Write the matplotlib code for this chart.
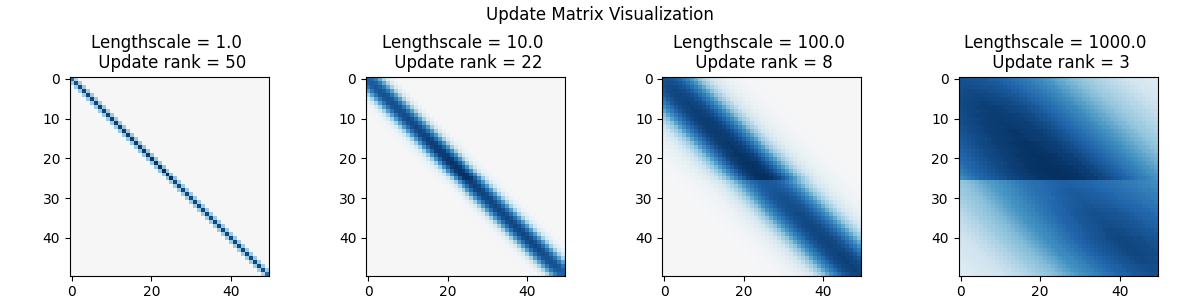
import numpy as np
import matplotlib
matplotlib.use("Agg")
import matplotlib.pyplot as plt

lengthscales = [1.0, 10.0, 100.0, 1000.0]
ranks = [50, 22, 8, 3]
split_row = 26

# peak value on each row
peak_1 = [0.78, 0.88, 0.9, 0.9, 0.91, 0.91, 0.91, 0.92, 0.92, 0.92,
          0.93, 0.93, 0.93, 0.94, 0.94, 0.94, 0.95, 0.95, 0.96, 0.96,
          0.97, 0.97, 0.98, 0.99, 1.0, 1.0, 0.9, 0.9, 0.9, 0.9,
          0.9, 0.9, 0.9, 0.9, 0.9, 0.9, 0.9, 0.9, 0.9, 0.9,
          0.9, 0.9, 0.9, 0.9, 0.9, 0.9, 0.9, 0.9, 0.88, 0.78]
peak_2 = [0.82, 0.84, 0.85, 0.86, 0.87, 0.87, 0.88, 0.88, 0.89, 0.89,
          0.9, 0.9, 0.91, 0.91, 0.92, 0.93, 0.94, 0.95, 0.96, 0.96,
          0.97, 0.98, 0.98, 0.99, 1.0, 1.0, 0.94, 0.93, 0.93, 0.92,
          0.92, 0.91, 0.91, 0.91, 0.91, 0.91, 0.91, 0.91, 0.91, 0.91,
          0.91, 0.91, 0.91, 0.9, 0.89, 0.88, 0.88, 0.87, 0.85, 0.82]
peak_3 = [0.88, 0.89, 0.9, 0.91, 0.92, 0.92, 0.93, 0.93, 0.94, 0.94,
          0.95, 0.95, 0.95, 0.96, 0.96, 0.96, 0.97, 0.97, 0.97, 0.98,
          0.98, 0.99, 0.99, 0.99, 1.0, 1.0, 0.85, 0.85, 0.86, 0.87,
          0.88, 0.88, 0.89, 0.89, 0.9, 0.9, 0.9, 0.91, 0.91, 0.91,
          0.92, 0.92, 0.92, 0.92, 0.93, 0.93, 0.93, 0.93, 0.93, 0.92]
peak_4 = [0.87, 0.88, 0.89, 0.9, 0.91, 0.92, 0.93, 0.94, 0.94, 0.95,
          0.95, 0.96, 0.96, 0.97, 0.97, 0.97, 0.98, 0.98, 0.98, 0.99,
          0.99, 0.99, 1.0, 1.0, 1.0, 1.0, 0.82, 0.82, 0.83, 0.84,
          0.84, 0.85, 0.86, 0.87, 0.88, 0.88, 0.89, 0.89, 0.9, 0.9,
          0.91, 0.91, 0.91, 0.91, 0.91, 0.9, 0.9, 0.89, 0.89, 0.88]

# falloff with distance from the diagonal, index = |row - col|
fall_1 = [1.0, 0.4] + [0.0] * 48
fall_2 = [1.0, 0.97, 0.84, 0.62, 0.37, 0.17, 0.07, 0.025, 0.01] + [0.0] * 41
fall_3 = [1.0, 0.99, 0.98, 0.95, 0.91, 0.84, 0.76, 0.66, 0.56, 0.45,
          0.36, 0.28, 0.21, 0.16, 0.12, 0.09, 0.07, 0.05, 0.04, 0.03,
          0.02, 0.015, 0.01, 0.005] + [0.0] * 26
# panel 4 needs separate sides, above and below the split row
fall_4_up_left = [1.0, 1.0, 0.99, 0.99, 0.98, 0.98, 0.97, 0.96, 0.95, 0.94,
                  0.93, 0.92, 0.91, 0.9, 0.88, 0.87, 0.85, 0.84, 0.82, 0.81,
                  0.79, 0.76, 0.73, 0.7, 0.66, 0.62] + [0.0] * 24
fall_4_up_right = [1.0, 1.0, 0.99, 0.99, 0.98, 0.98, 0.97, 0.96, 0.95, 0.94,
                   0.92, 0.91, 0.89, 0.87, 0.85, 0.83, 0.81, 0.79, 0.76, 0.74,
                   0.71, 0.69, 0.66, 0.63, 0.6, 0.58, 0.55, 0.53, 0.5, 0.48,
                   0.46, 0.43, 0.41, 0.39, 0.37, 0.35, 0.33, 0.31, 0.3, 0.28,
                   0.26, 0.25, 0.23, 0.22, 0.2, 0.19, 0.18, 0.17, 0.16, 0.15]
fall_4_low_left = [1.0, 1.0, 0.99, 0.98, 0.97, 0.96, 0.95, 0.93, 0.92, 0.91,
                   0.89, 0.87, 0.85, 0.82, 0.8, 0.77, 0.75, 0.72, 0.7, 0.68,
                   0.65, 0.62, 0.59, 0.56, 0.53, 0.5, 0.48, 0.46, 0.44, 0.42,
                   0.4, 0.38, 0.35, 0.33, 0.31, 0.29, 0.27, 0.26, 0.24, 0.23,
                   0.22, 0.21, 0.2, 0.19, 0.18, 0.17, 0.16, 0.15, 0.15, 0.14]
fall_4_low_right = [1.0, 1.0, 0.99, 0.99, 0.98, 0.98, 0.97, 0.96, 0.95, 0.94,
                    0.93, 0.92, 0.91, 0.9, 0.89, 0.87, 0.86, 0.85, 0.83, 0.82,
                    0.81, 0.79, 0.78, 0.76, 0.75] + [0.0] * 25


def build(peak, up_left, up_right, low_left, low_right):
    m = np.zeros((50, 50))
    for i in range(50):
        left = up_left if i < split_row else low_left
        right = up_right if i < split_row else low_right
        for j in range(50):
            fall = left[i - j] if j < i else right[j - i]
            m[i, j] = peak[i] * fall
    return m


matrices = [
    build(peak_1, fall_1, fall_1, fall_1, fall_1),
    build(peak_2, fall_2, fall_2, fall_2, fall_2),
    build(peak_3, fall_3, fall_3, fall_3, fall_3),
    build(peak_4, fall_4_up_left, fall_4_up_right, fall_4_low_left, fall_4_low_right),
]

fig, axes = plt.subplots(1, 4, figsize=(12, 3))
for ax, ls, rank, m in zip(axes, lengthscales, ranks, matrices):
    ax.imshow(m, cmap="RdBu", vmin=-1, vmax=1)
    ax.set_title("Lengthscale = " + str(ls) + " \n Update rank = " + str(rank))
fig.suptitle("Update Matrix Visualization")
fig.tight_layout()
fig.savefig("out.png", dpi=100)
